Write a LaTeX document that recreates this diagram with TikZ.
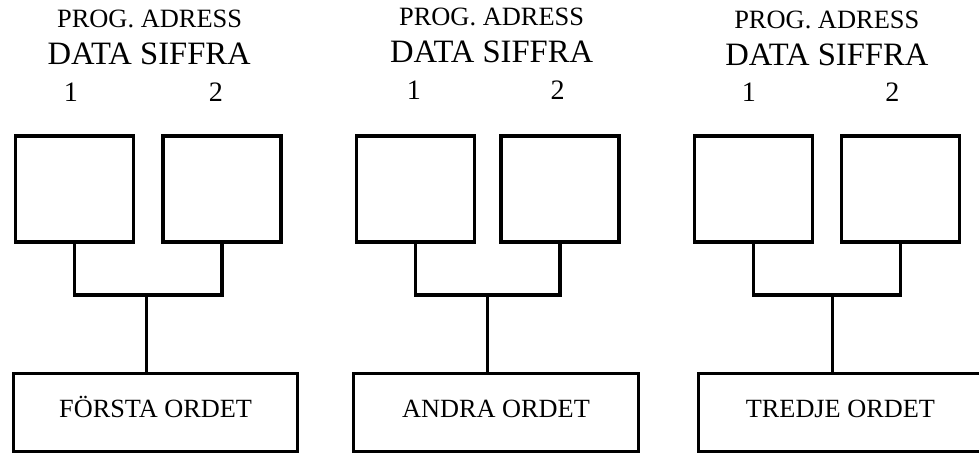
\documentclass[tikz,border=0pt]{standalone}
\usepackage{fontspec}
\setmainfont{Liberation Serif}
\usetikzlibrary{calc}
\newcommand{\adrfont}{\fontsize{18.8}{21}\selectfont}
\newcommand{\siffont}{\fontsize{23.2}{26}\selectfont}
\newcommand{\nrfont}{\fontsize{20}{22}\selectfont}
\newcommand{\ordfont}{\fontsize{18.7}{21}\selectfont}

\begin{document}
\begin{tikzpicture}[line width=2.4pt,
  siffra/.style={draw, minimum width=2.95cm, minimum height=2.65cm, inner sep=0pt},
  ord/.style={draw, minimum width=7.11cm, minimum height=1.95cm, inner sep=0pt, font=\ordfont, text height=0.66em, text depth=0pt},
  adr/.style={inner sep=0pt, font=\adrfont},
  sif/.style={inner sep=0pt, font=\siffont},
  nr/.style={inner sep=0pt, font=\nrfont}]
\useasboundingbox (0,0) rectangle (24.475,11.35);
\clip (0,0) rectangle (24.475,11.35);

% first word
\node [adr] (a1) at (3.74,10.87) {PROG. ADRESS};
\node [sif] (d1) at (3.73,10.0) {DATA SIFFRA};
\node [nr] (n11) at (1.775,9.04) {1};
\node [nr] (n12) at (5.4,9.04) {2};
\node [siffra] (s11) at (1.87,6.625) {};
\node [siffra] (s12) at (5.55,6.625) {};
\node [ord] (o1) at (3.89,1.0375) {FÖRSTA ORDET};
\coordinate (j1) at (3.667,3.975);
\draw (s11.south) |- (j1) -| (s12.south);
\draw (j1) -- (j1 |- o1.north);

% second word
\node [adr] (a2) at (12.29,10.92) {PROG. ADRESS};
\node [sif] (d2) at (12.29,10.06) {DATA SIFFRA};
\node [nr] (n21) at (10.35,9.1) {1};
\node [nr] (n22) at (13.94,9.1) {2};
\node [siffra] (s21) at (10.39,6.625) {};
\node [siffra] (s22) at (14.0,6.625) {};
\node [ord] (o2) at (12.4,1.0375) {ANDRA ORDET};
\coordinate (j2) at (12.18,3.975);
\draw (s21.south) |- (j2) -| (s22.south);
\draw (j2) -- (j2 |- o2.north);

% third word
\node [adr] (a3) at (20.67,10.85) {PROG. ADRESS};
\node [sif] (d3) at (20.67,9.99) {DATA SIFFRA};
\node [nr] (n31) at (18.725,9.05) {1};
\node [nr] (n32) at (22.31,9.05) {2};
\node [siffra] (s31) at (18.83,6.625) {};
\node [siffra] (s32) at (22.52,6.625) {};
\node [ord] (o3) at (21.01,1.0375) {TREDJE ORDET};
\coordinate (j3) at (20.81,3.975);
\draw (s31.south) |- (j3) -| (s32.south);
\draw (j3) -- (j3 |- o3.north);
\end{tikzpicture}
\end{document}
